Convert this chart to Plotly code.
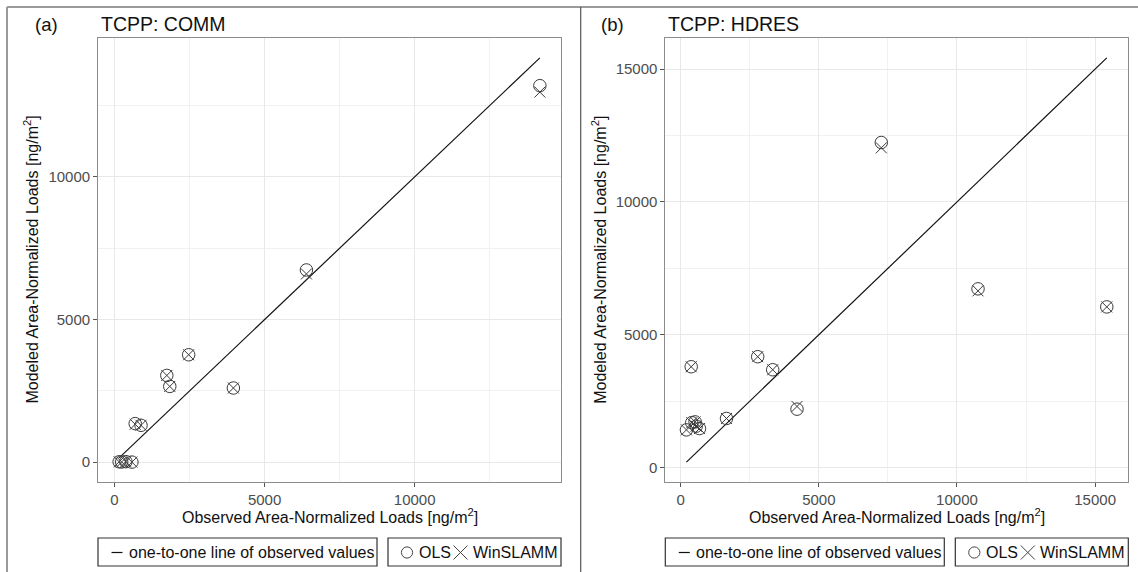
import plotly.graph_objects as go

# ---------------- data ----------------
# Panel (a) TCPP: COMM
obs_a = [155, 240, 380, 580, 690, 884, 1743, 1842, 2471, 3960, 6393, 14169]
ols_a = [15, 10, 20, 5, 1353, 1294, 3042, 2657, 3766, 2601, 6738, 13196]
win_a = [15, 10, 20, 5, 1330, 1294, 3042, 2657, 3766, 2601, 6598, 12972]

# Panel (b) TCPP: HDRES
obs_b = [207, 380, 400, 520, 560, 680, 1658, 2787, 3330, 4210, 7261, 10761, 15422]
ols_b = [1420, 3796, 1690, 1720, 1560, 1470, 1849, 4174, 3683, 2200, 12238, 6728, 6049]
win_b = [1420, 3796, 1690, 1720, 1560, 1470, 1849, 4174, 3683, 2302, 12038, 6653, 6049]

panel_labels = ["(a)", "(b)"]
panel_titles = ["TCPP: COMM", "TCPP: HDRES"]
x_title = "Observed Area-Normalized Loads [ng/m<sup>2</sup>]"
y_title = "Modeled Area-Normalized Loads [ng/m<sup>2</sup>]"
legend_line_text = "one-to-one line of observed values"
legend_pt_texts = ["OLS", "WinSLAMM"]

# ---------------- layout helpers ----------------
W, H = 1138, 572
FONT = "Liberation Sans, Arial, Helvetica, sans-serif"


def px(x):
    return x / W


def py(y):
    return 1 - y / H


def expand(vals, mult=0.05):
    lo, hi = min(vals), max(vals)
    d = (hi - lo) * mult
    return [lo - d, hi + d]


def note(text, x, y, size, xanchor="left", angle=0, color="#111111"):
    return dict(text=text, x=px(x), y=py(y), xref="paper", yref="paper",
                xanchor=xanchor, yanchor="middle", showarrow=False, textangle=angle,
                font=dict(family=FONT, size=size, color=color))


panels = [
    dict(obs=obs_a, ols=ols_a, win=win_a, x0=98.1, x1=560.9),
    dict(obs=obs_b, ols=ols_b, win=win_b, x0=665.4, x1=1127.8),
]
PT, PB = 37.7, 482.3

fig = go.Figure()
shapes = []
annotations = []
mark_color = "#3a3a3a"

for i, p in enumerate(panels):
    xa = "x" if i == 0 else "x2"
    ya = "y" if i == 0 else "y2"
    lo, hi = min(p["obs"]), max(p["obs"])
    fig.add_trace(go.Scatter(x=[lo, hi], y=[lo, hi], mode="lines",
                             line=dict(color="#111111", width=1.2),
                             xaxis=xa, yaxis=ya, showlegend=False, hoverinfo="skip"))
    fig.add_trace(go.Scatter(x=p["obs"], y=p["ols"], mode="markers",
                             marker=dict(symbol="circle-open", size=12.5,
                                         line=dict(color=mark_color, width=1),
                                         color=mark_color),
                             xaxis=xa, yaxis=ya, showlegend=False))
    fig.add_trace(go.Scatter(x=p["obs"], y=p["win"], mode="markers",
                             marker=dict(symbol="x-thin", size=11,
                                         line=dict(color=mark_color, width=1),
                                         color=mark_color),
                             xaxis=xa, yaxis=ya, showlegend=False))

    xr = expand(p["obs"] + [lo, hi])
    yr = expand(p["ols"] + p["win"] + [lo, hi])
    axis_common = dict(
        showline=True, mirror=True, linecolor="#8c8c8c", linewidth=1,
        ticks="outside", ticklen=4, tickcolor="#555555", tickwidth=1,
        tickfont=dict(family=FONT, size=15, color="#4d4d4d"),
        tickformat="d",
        showgrid=True, gridcolor="#e8e8e8", gridwidth=1,
        zeroline=False, tick0=0, dtick=5000,
        minor=dict(tick0=0, dtick=2500, showgrid=True, gridcolor="#f1f1f1", gridwidth=0.6, ticks=""),
    )
    xkey = "xaxis" if i == 0 else "xaxis2"
    ykey = "yaxis" if i == 0 else "yaxis2"
    fig.update_layout(**{
        xkey: dict(axis_common, domain=[px(p["x0"]), px(p["x1"])], range=xr,
                   anchor=ya),
        ykey: dict(axis_common, domain=[py(PB), py(PT)], range=yr, anchor=xa),
    })

    off = p["x0"] - 98.1
    # titles
    annotations.append(note(panel_labels[i], 32.5 + (599 - 32.5) * i, 24, 18.5))
    annotations.append(note(panel_titles[i], p["x0"] + 0.5, 24, 19.5))
    # axis titles
    annotations.append(note(x_title, (p["x0"] + p["x1"]) / 2, 516, 16, xanchor="center"))
    annotations.append(note(y_title, 31.5 + off, (PT + PB) / 2, 16, xanchor="center", angle=-90))
    # legend boxes
    LT, LB, LC = 538, 566, 552.5
    shapes.append(dict(type="rect", xref="paper", yref="paper",
                       x0=px(98 + off), x1=px(377 + off), y0=py(LB), y1=py(LT),
                       line=dict(color="#333333", width=1.2)))
    shapes.append(dict(type="line", xref="paper", yref="paper",
                       x0=px(111.5 + off), x1=px(122.5 + off), y0=py(LC), y1=py(LC),
                       line=dict(color="#111111", width=1.2)))
    annotations.append(note(legend_line_text, 126.5 + off, LC, 16))
    shapes.append(dict(type="rect", xref="paper", yref="paper",
                       x0=px(388 + off), x1=px(561 + off), y0=py(LB), y1=py(LT),
                       line=dict(color="#333333", width=1.2)))
    cx, r = 407 + off, 5.6
    shapes.append(dict(type="circle", xref="paper", yref="paper",
                       x0=px(cx - r), x1=px(cx + r), y0=py(LC + r), y1=py(LC - r),
                       line=dict(color="#444444", width=1)))
    annotations.append(note(legend_pt_texts[0], 417 + off, LC, 16))
    xc, h = 460.5 + off, 7
    for s in (1, -1):
        shapes.append(dict(type="line", xref="paper", yref="paper",
                           x0=px(xc - h), x1=px(xc + h), y0=py(LC - s * h), y1=py(LC + s * h),
                           line=dict(color="#444444", width=1)))
    annotations.append(note(legend_pt_texts[1], 470.5 + off, LC, 16))

# outer frame lines
frame_col = "#9a9a9a"
shapes.append(dict(type="line", xref="paper", yref="paper", x0=px(7), x1=1, y0=py(7), y1=py(7),
                   line=dict(color=frame_col, width=2)))
shapes.append(dict(type="line", xref="paper", yref="paper", x0=px(7), x1=px(7), y0=py(7), y1=0,
                   line=dict(color=frame_col, width=2)))
shapes.append(dict(type="line", xref="paper", yref="paper", x0=px(580.7), x1=px(580.7), y0=py(7), y1=0,
                   line=dict(color="#555555", width=1.2)))

fig.update_layout(
    width=W, height=H, autosize=False,
    margin=dict(l=0, r=0, t=0, b=0),
    paper_bgcolor="white", plot_bgcolor="white",
    showlegend=False,
    shapes=shapes, annotations=annotations,
    font=dict(family=FONT),
)

fig.write_html("out.html", config={"displayModeBar": False},
               post_script="document.body.style.margin='0px';document.body.style.overflow='hidden';")
